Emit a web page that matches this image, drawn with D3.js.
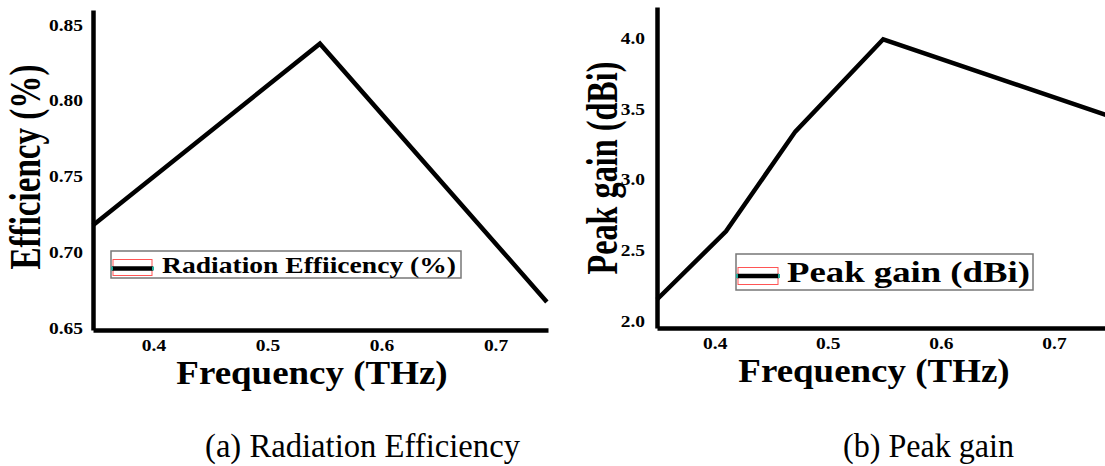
<!DOCTYPE html>
<html><head><meta charset="utf-8">
<script src="https://cdn.jsdelivr.net/npm/d3@7"></script>
<style>body{margin:0;background:#fff}svg{display:block}</style>
</head><body><svg id="c" width="1105" height="466"></svg>
<script>
// Data
const effFreq = [0.347, 0.546, 0.745];
const effVal  = [0.718, 0.8375, 0.6675];
const effTicksY = [0.65, 0.70, 0.75, 0.80, 0.85];
const gainFreq = [0.349, 0.410, 0.4713, 0.549, 0.746];
const gainVal  = [2.154, 2.635, 3.339, 3.99, 3.457];
const gainTicksY = [2.0, 2.5, 3.0, 3.5, 4.0];
const freqTicks = [0.4, 0.5, 0.6, 0.7];

const svg = d3.select('#c');
const serif = "'Liberation Serif'";

function stretch(sel, k){
  sel.each(function(){
    const n = this.getComputedTextLength();
    d3.select(this).attr('textLength', n*k).attr('lengthAdjust','spacingAndGlyphs');
  });
}

function panel(o){
  const g = svg.append('g');
  const x = d3.scaleLinear().domain(o.xd).range(o.xr);
  const y = d3.scaleLinear().domain(o.yd).range(o.yr);
  const xa = g.append('g').attr('transform',`translate(0,${o.yr[0]})`)
    .call(d3.axisBottom(x).tickValues(freqTicks).tickSize(0).tickPadding(9).tickFormat(d3.format('.1f')));
  const ya = g.append('g').attr('transform',`translate(${o.xr[0]},0)`)
    .call(d3.axisLeft(y).tickValues(o.yt).tickSize(0).tickPadding(o.ypad).tickFormat(d3.format(o.yf)));
  [xa,ya].forEach(a=>{
    a.select('.domain').attr('stroke','#000').attr('stroke-width',4.5);
    a.selectAll('text').attr('font-family',serif).attr('font-weight','bold').attr('font-size',16.5).attr('fill','#000');
    stretch(a.selectAll('text'), 1.18);
  });
  const pts = o.xs.map((f,i)=>[f,o.ys[i]]);
  g.append('path').datum(pts).attr('fill','none').attr('stroke','#000').attr('stroke-width',4.5)
    .attr('stroke-linejoin','miter')
    .attr('d', d3.line().x(d=>x(d[0])).y(d=>y(d[1])));
  // axis titles
  g.append('text').attr('x',o.xtx).attr('y',o.xty).attr('text-anchor','middle')
    .attr('font-family',serif).attr('font-weight','bold').attr('font-size',33).text('Frequency (THz)')
    .call(stretch, 1.12);
  g.append('text').attr('transform',`translate(${o.ytx},${o.yty}) rotate(-90) scale(1,${o.ytk})`).attr('text-anchor','middle')
    .attr('font-family',serif).attr('font-weight','bold').attr('font-size',31)
    .attr('textLength',o.ytl).attr('lengthAdjust','spacingAndGlyphs').text(o.ytitle);
  // legend
  const L = o.leg;
  g.append('rect').attr('x',L.x).attr('y',L.y).attr('width',L.w).attr('height',L.h)
    .attr('fill','#fff').attr('stroke','#777').attr('stroke-width',1.5);
  g.append('rect').attr('x',L.x+2).attr('y',L.ry).attr('width',L.sw-3).attr('height',L.rh)
    .attr('fill','none').attr('stroke','#f55').attr('stroke-width',1);
  g.append('line').attr('x1',L.x+1).attr('x2',L.x+L.sw).attr('y1',L.ly).attr('y2',L.ly)
    .attr('stroke','#000').attr('stroke-width',4.5);
  [L.x+1,L.x+L.sw].forEach(cx=>g.append('rect').attr('x',cx-1).attr('y',L.ly-2).attr('width',2).attr('height',4).attr('fill','#2a9'));
  g.append('text').attr('x',L.tx).attr('y',L.ty).attr('font-family',serif).attr('font-weight','bold')
    .attr('font-size',L.fs).attr('textLength',L.tl).attr('lengthAdjust','spacingAndGlyphs').text(L.text);
  // caption
  g.append('text').attr('x',o.cx).attr('y',457).attr('font-family',serif).attr('font-size',33)
    .attr('textLength',o.cw).attr('lengthAdjust','spacingAndGlyphs').text(o.cap);
}

panel({xd:[0.347,0.746], xr:[93,548], yd:[0.649,0.8597], yr:[330,10], yt:effTicksY, yf:'.2f', ypad:10,
  xs:effFreq, ys:effVal, xtx:312, xty:384, ytx:40, yty:167, ytk:1.4, ytl:205, ytitle:'Efficiency (%)',
  leg:{x:111,y:251,w:350,h:27,sw:42,ly:268.5,ry:259.5,rh:16,tx:162,ty:273,fs:23,tl:294,text:'Radiation Effiicency (%)'},
  cx:205, cw:315, cap:'(a)  Radiation Efficiency'});
panel({xd:[0.349,0.746], xr:[657,1106], yd:[1.953,4.218], yr:[328,7], yt:gainTicksY, yf:'.1f', ypad:12,
  xs:gainFreq, ys:gainVal, xtx:874, xty:382, ytx:617, yty:168, ytk:1.4, ytl:213, ytitle:'Peak gain (dBi)',
  leg:{x:736,y:254,w:297,h:36,sw:43,ly:276,ry:267.5,rh:17,tx:787,ty:282,fs:30,tl:243,text:'Peak gain (dBi)'},
  cx:843, cw:171, cap:'(b) Peak gain'});
</script></body></html>
